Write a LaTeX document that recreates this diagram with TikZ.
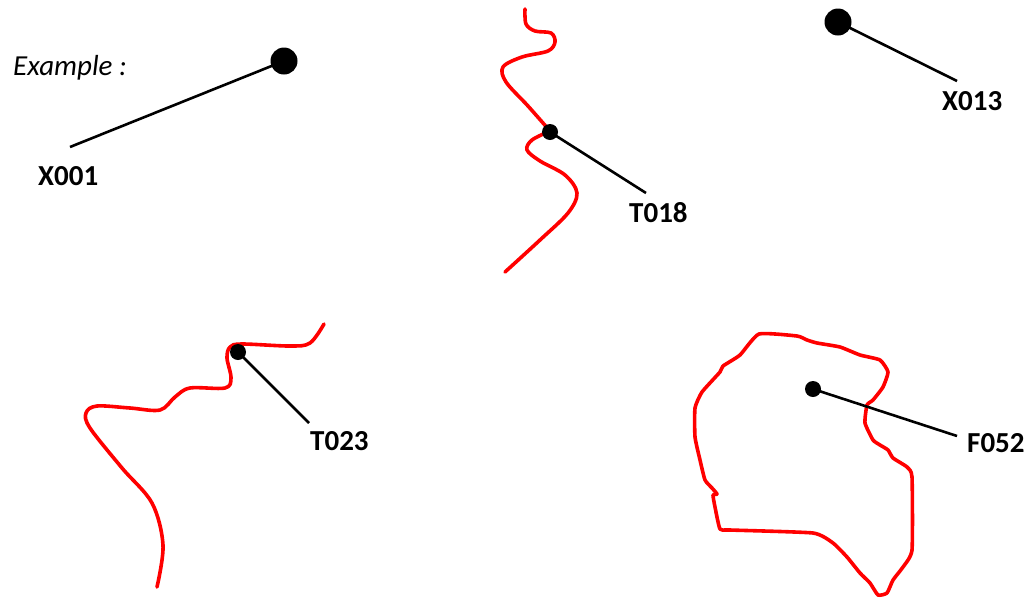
\documentclass[tikz,border=0pt]{standalone}
\usepackage{fontspec}
\setmainfont{Carlito}
\begin{document}
\begin{tikzpicture}[x=1pt,y=-1pt,
  redline/.style={draw=red, line width=3.6pt, line cap=round, line join=round},
  leader/.style={draw=black, line width=2.6pt},
  bigdot/.style={circle, fill=black, inner sep=0pt, minimum size=27pt},
  smalldot/.style={circle, fill=black, inner sep=0pt, minimum size=16pt},
  lbl/.style={anchor=base west, inner sep=0pt, font=\fontsize{29}{35}\selectfont\bfseries}]
\useasboundingbox (0,0) rectangle (1025,598);

% red curves
\draw[redline] plot[smooth, tension=0.55] coordinates {(525,9) (526,24) (535,31) (551,33) (555,42) (548,51) (522,57) (503,67) (506,82) (528,106) (550,131)};
\draw[redline] plot[smooth, tension=0.55] coordinates {(550,131) (532,140) (527,150) (540,161) (565,175) (577,193) (568,213) (540,240) (505,272)};

\draw[redline] plot[smooth, tension=0.55] coordinates {(157,587) (163,545) (152,503) (122,468) (90,428) (86,413) (97,406) (130,408) (160,410) (175,397) (190,388) (225,388) (231,378) (227,358) (230,347) (242,344) (290,346) (310,343) (324,324)};

\draw[redline] plot[smooth cycle, tension=0.3] coordinates {(759,334) (797,336) (807,340) (817,343) (840,347) (860,355) (880,360) (888,372) (883,387) (873,400) (867,405) (865,423) (873,440) (880,445) (888,450) (893,458) (907,467) (912,477) (912,550) (903,567) (893,580) (887,593) (878,595) (870,583) (860,573) (847,557) (833,543) (813,533) (730,530) (720,529) (715,507) (713,495) (717,494) (712,488) (705,480) (700,460) (695,437) (695,408) (702,392) (720,372) (723,366) (740,355)};

% example
\node[anchor=base west, inner sep=0pt, font=\fontsize{29}{35}\selectfont\itshape] (ex) at (13,75) {Example :};

% X001
\node[bigdot] (d1) at (284,61) {};
\coordinate (e1) at (70,147);
\draw[leader] (d1.center) -- (e1);
\node[lbl] (l1) at (38,185) {X001};

% X013
\node[bigdot] (d2) at (838,22) {};
\coordinate (e2) at (957,81);
\draw[leader] (d2.center) -- (e2);
\node[lbl] (l2) at (942,110) {X013};

% T018
\node[smalldot] (d3) at (550,132) {};
\coordinate (e3) at (646,193);
\draw[leader] (d3.center) -- (e3);
\node[lbl] (l3) at (629,222) {T018};

% T023
\node[smalldot] (d4) at (238,352) {};
\coordinate (e4) at (309,423);
\draw[leader] (d4.center) -- (e4);
\node[lbl] (l4) at (310,450) {T023};

% F052
\node[smalldot] (d5) at (813,389) {};
\coordinate (e5) at (957,436);
\draw[leader] (d5.center) -- (e5);
\node[lbl] (l5) at (967,452) {F052};
\end{tikzpicture}
\end{document}
